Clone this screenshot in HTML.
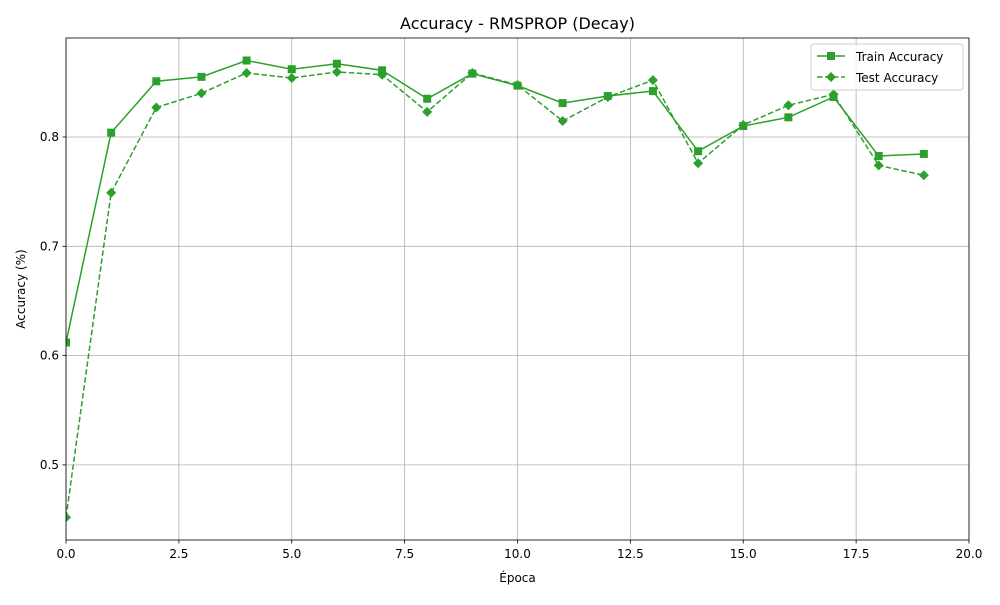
<!DOCTYPE html>
<html><head><meta charset="utf-8"><style>
html,body{margin:0;padding:0;background:#fff;}
svg text{font-family:"DejaVu Sans","Liberation Sans",sans-serif;}
</style></head><body>
<svg id="chart" width="1000" height="600" xmlns="http://www.w3.org/2000/svg">
<rect width="1000" height="600" fill="#fff"/>
<g id="grid"></g><g id="ticks"></g><g id="series"></g>
<rect x="66" y="38" width="903" height="502" fill="none" stroke="#000" stroke-width="0.8"/>
<text x="517.5" y="29" font-size="16" text-anchor="middle">Accuracy - RMSPROP (Decay)</text>
<text x="517.5" y="582" font-size="12" text-anchor="middle">Época</text>
<text x="25" y="289" font-size="12" text-anchor="middle" transform="rotate(-90 25 289)">Accuracy (%)</text>
<g>
<rect x="811" y="44" width="152" height="46" rx="3" fill="#fff" fill-opacity="0.8" stroke="#ccc"/>
<line x1="817" y1="56" x2="845" y2="56" stroke="#2ca02c" stroke-width="1.5"/>
<rect x="827" y="52" width="8" height="8" fill="#2ca02c"/>
<text x="856" y="61" font-size="12">Train Accuracy</text>
<line x1="817" y1="77" x2="845" y2="77" stroke="#2ca02c" stroke-width="1.5" stroke-dasharray="5.5,2.5"/>
<path d="M831 72 L836 77 L831 82 L826 77Z" fill="#2ca02c"/>
<text x="856" y="82" font-size="12">Test Accuracy</text>
</g>
</svg>
<script>
const epochs=[0,1,2,3,4,5,6,7,8,9,10,11,12,13,14,15,16,17,18,19];
const trainAcc=[0.612,0.804,0.851,0.855,0.870,0.862,0.867,0.861,0.835,0.858,0.847,0.831,0.8375,0.842,0.787,0.810,0.818,0.8366,0.7826,0.7845];
const testAcc=[0.452,0.749,0.827,0.840,0.8586,0.854,0.8595,0.857,0.823,0.8586,0.8476,0.8146,0.8366,0.852,0.776,0.811,0.829,0.839,0.774,0.765];
const xTicks=[0,2.5,5,7.5,10,12.5,15,17.5,20];
const yTicks=[0.5,0.6,0.7,0.8];
const NS="http://www.w3.org/2000/svg";
const X=v=>66+v*(903/20);
const Y=v=>137-(v-0.8)*1093;
function el(t,a,p){const e=document.createElementNS(NS,t);for(const k in a)e.setAttribute(k,a[k]);p.appendChild(e);return e;}
const grid=document.getElementById('grid'),ticks=document.getElementById('ticks'),ser=document.getElementById('series');
xTicks.forEach(t=>{const x=X(t);
 const g=el('line',{x1:x,x2:x,y1:38,y2:540,stroke:'#b0b0b0','stroke-width':0.8},grid);
 
 
 el('line',{x1:x,x2:x,y1:540,y2:543.5,stroke:'#000','stroke-width':0.8},ticks);
 const tx=el('text',{x:x,y:558,'font-size':12,'text-anchor':'middle'},ticks);tx.textContent=t.toFixed(1);
 
 
});
yTicks.forEach(t=>{const y=Y(t);
 const g=el('line',{x1:66,x2:969,y1:y,y2:y,stroke:'#b0b0b0','stroke-width':0.8},grid);
 
 
 el('line',{x1:62.5,x2:66,y1:y,y2:y,stroke:'#000','stroke-width':0.8},ticks);
 const tx=el('text',{x:59,y:y+4,'font-size':12,'text-anchor':'end'},ticks);tx.textContent=t.toFixed(1);
 
 
});
const clip=el('clipPath',{id:'pc'},ser);el('rect',{x:66,y:38,width:903,height:502},clip);
const gS=el('g',{'clip-path':'url(#pc)'},ser);
const tl=el('polyline',{points:epochs.map((e,i)=>X(e)+','+Y(trainAcc[i])).join(' '),fill:'none',stroke:'#2ca02c','stroke-width':1.5},gS);


const sl=el('polyline',{points:epochs.map((e,i)=>X(e)+','+Y(testAcc[i])).join(' '),fill:'none',stroke:'#2ca02c','stroke-width':1.5,'stroke-dasharray':'5.5,2.5'},gS);


epochs.forEach((e,i)=>{
 const x=X(e),y=Y(trainAcc[i]);
 const m=el('rect',{x:x-4,y:y-4,width:8,height:8,fill:'#2ca02c'},gS);
 
 
 const y2=Y(testAcc[i]);
 const d=el('path',{d:`M${x} ${y2-5}L${x+5} ${y2}L${x} ${y2+5}L${x-5} ${y2}Z`,fill:'#2ca02c'},gS);
 
 
});
</script>
</body></html>
